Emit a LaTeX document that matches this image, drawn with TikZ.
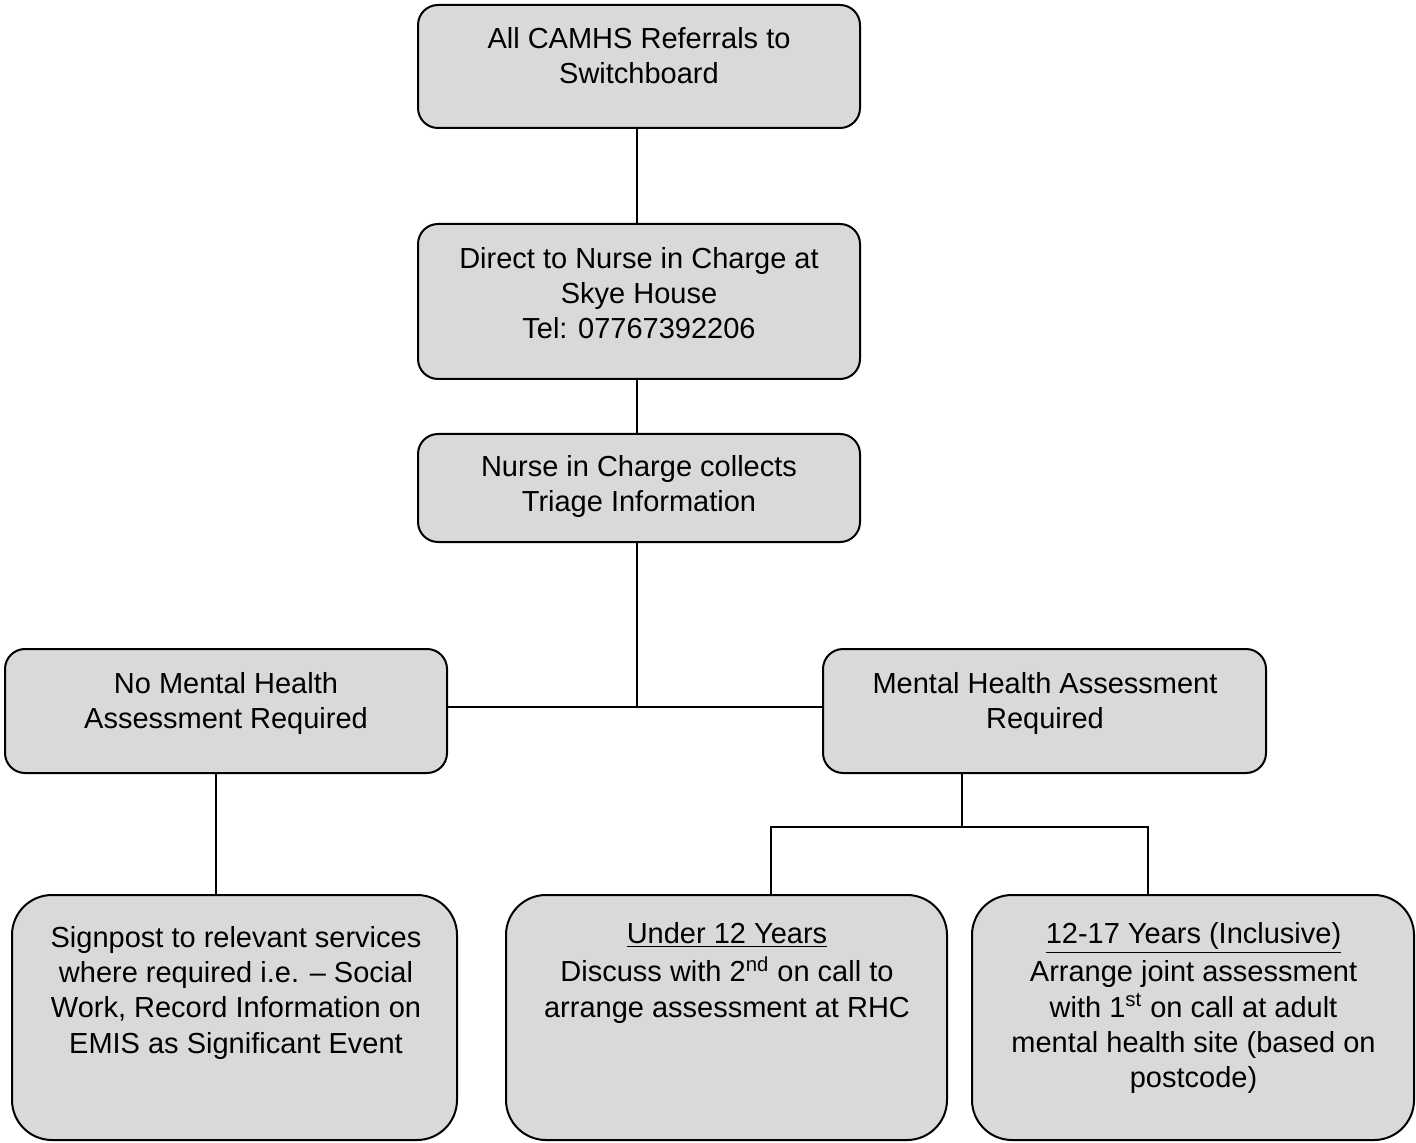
\documentclass[tikz,border=0pt]{standalone}
\usepackage{fontspec}
\setmainfont{Liberation Sans}
\begin{document}
\begin{tikzpicture}[x=0.5pt,y=-0.5pt,
  box/.style={draw=black, line width=1pt, fill=boxgray, rounded corners=10pt, inner sep=0pt, outer sep=0pt},
  bigbox/.style={box, rounded corners=20pt},
  txt/.style={anchor=north, align=center, inner sep=0pt, font=\fontsize{14.5}{17.6}\selectfont},
  conn/.style={line width=1pt, draw=black}]
\definecolor{boxgray}{HTML}{D9D9D9}
\useasboundingbox (0,0) rectangle (1416,1143);
% boxes
\node[box, minimum width=221pt, minimum height=61.5pt] (b1) at (639,66.5) {};
\node[box, minimum width=221pt, minimum height=77.5pt] (b2) at (639,301.5) {};
\node[box, minimum width=221pt, minimum height=54pt] (b3) at (639,488) {};
\node[box, minimum width=221pt, minimum height=62pt] (b4) at (226,711) {};
\node[box, minimum width=221.5pt, minimum height=62pt] (b5) at (1044.5,711) {};
\node[bigbox, minimum width=222.5pt, minimum height=122.5pt] (b6) at (234.5,1017.5) {};
\node[bigbox, minimum width=220.5pt, minimum height=122.5pt] (b7) at (726.5,1017.5) {};
\node[bigbox, minimum width=221pt, minimum height=122.5pt] (b8) at (1193,1017.5) {};
% texts
\node[txt] (t1) at (639,27) {All CAMHS Referrals to\\Switchboard};
\node[txt] (t2) at (639,247) {Direct to Nurse in Charge at\\Skye House\\Tel: 07767392206};
\node[txt] (t3) at (639,455) {Nurse in Charge collects\\Triage Information};
\node[txt] (t4) at (226,672) {No Mental Health\\Assessment Required};
\node[txt] (t5) at (1045,672) {Mental Health Assessment\\Required};
\node[txt] (t6) at (236,926) {Signpost to relevant services\\where required i.e. -- Social\\Work, Record Information on\\EMIS as Significant Event};
\node[txt] (t7) at (727,922) {\underline{Under 12 Years}\\[1.6pt]Discuss with 2\textsuperscript{nd} on call to\\arrange assessment at RHC};
\node[txt] (t8) at (1193.5,922) {\underline{12-17 Years (Inclusive)}\\[1.6pt]Arrange joint assessment\\with 1\textsuperscript{st} on call at adult\\mental health site (based on\\postcode)};
% connector coordinates
\coordinate (m) at (637,707);
\coordinate (l) at (216,0);
\coordinate (r) at (962,827);
\coordinate (r1) at (771,827);
\coordinate (r2) at (1148,827);
% connectors
\draw[conn] (b1.south -| m) -- (b2.north -| m);
\draw[conn] (b2.south -| m) -- (b3.north -| m);
\draw[conn] (b3.south -| m) -- (m);
\draw[conn] (b4.east |- m) -- (b5.west |- m);
\draw[conn] (b4.south -| l) -- (b6.north -| l);
\draw[conn] (b5.south -| r) -- (r);
\draw[conn] (b7.north -| r1) -- (r1) -- (r2) -- (b8.north -| r2);
\end{tikzpicture}
\end{document}
